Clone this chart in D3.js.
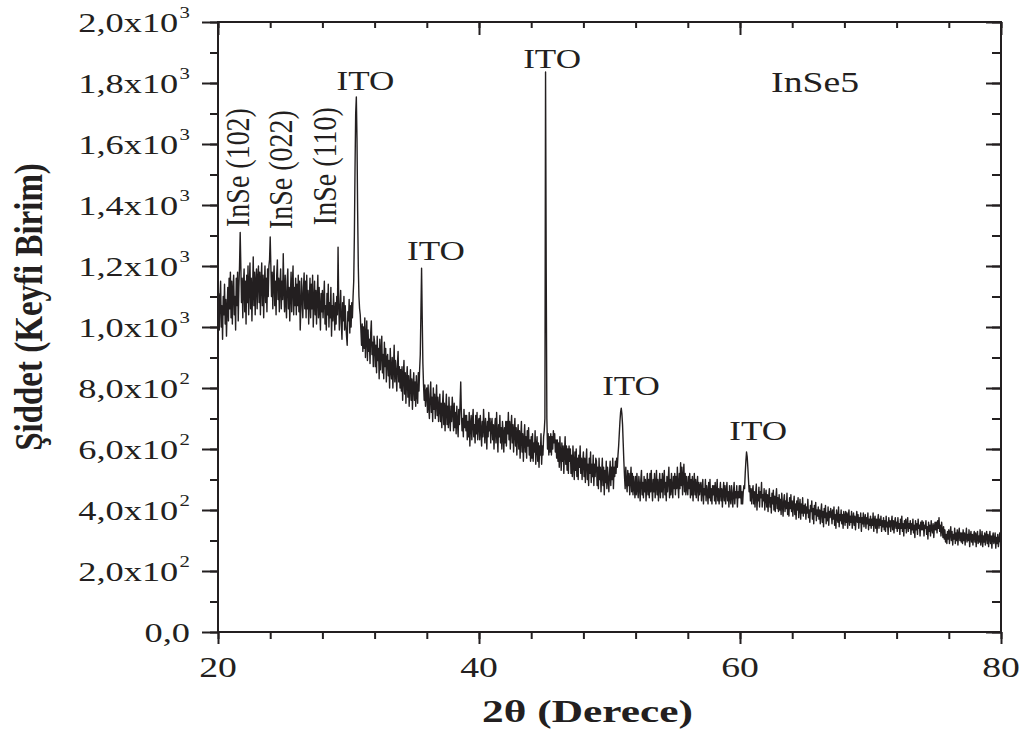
<!DOCTYPE html>
<html>
<head>
<meta charset="utf-8">
<script src="https://cdn.jsdelivr.net/npm/d3@7"></script>
<style>
  body { margin: 0; background: #fff; }
  svg { display: block; }
  text { font-family: "Liberation Serif", "Times New Roman", serif; fill: #231f20; }
</style>
</head>
<body>
<svg id="chart" width="1029" height="735"></svg>
<script>
// XRD pattern, InSe5 film: counts, 0.05 degree steps from 20 to 80
// (one line per degree)
const twoThetaStart = 20;
const twoThetaStep = 0.05;
const counts = [
  1020, 1110, 990, 1090, 1150, 1000, 1070, 960, 1100, 1040, 1140, 1010, 1090, 970, 1060, 1130, 1020, 1160, 1060, 1180,
  1030, 1150, 1010, 1120, 1170, 1040, 1100, 990, 1160, 1070, 1180, 1020, 1130, 1200, 1310, 1200, 1080, 1160, 1030, 1140,
  1190, 1050, 1150, 1010, 1170, 1080, 1200, 1040, 1140, 1210, 1060, 1160, 1020, 1120, 1230, 1070, 1180, 1040, 1150, 1190,
  1060, 1160, 1200, 1080, 1180, 1040, 1150, 1210, 1070, 1170, 1030, 1140, 1200, 1080, 1160, 1050, 1190, 1100, 1200, 1220,
  1295, 1200, 1100, 1180, 1060, 1160, 1200, 1070, 1150, 1040, 1170, 1220, 1090, 1160, 1050, 1140, 1190, 1060, 1150, 1090,
  1240, 1120, 1050, 1170, 1080, 1030, 1150, 1190, 1060, 1130, 1020, 1110, 1180, 1050, 1140, 1200, 1040, 1130, 1070, 1160,
  1040, 1140, 1070, 1170, 1050, 1150, 990, 1060, 1160, 1090, 1030, 1130, 1177, 1060, 1150, 1030, 1170, 1060, 1120, 1010,
  1090, 1160, 1030, 1140, 1060, 1170, 1000, 1080, 1150, 1040, 1120, 1010, 1100, 1170, 1030, 1130, 1060, 990, 1110, 1050,
  1120, 1030, 1090, 1150, 1010, 1070, 990, 1110, 1040, 1140, 1000, 1080, 1030, 1130, 970, 1070, 1020, 1110, 1050, 990,
  1080, 1010, 1100, 1040, 1262, 1080, 990, 1060, 1120, 1010, 960, 1080, 1020, 1100, 990, 1070, 1010, 970, 940, 1050,
  1020, 1090, 980, 1070, 1000, 1080, 1030, 1100, 1150, 1300, 1520, 1700, 1754, 1620, 1380, 1200, 1100, 1060, 1040, 990,
  940, 1010, 920, 1000, 930, 1030, 900, 970, 1020, 890, 990, 920, 960, 880, 980, 1020, 910, 950, 870, 970,
  950, 870, 940, 850, 970, 890, 930, 830, 960, 860, 920, 970, 850, 910, 830, 950, 870, 930, 820, 900,
  910, 840, 890, 800, 930, 860, 830, 900, 800, 870, 940, 820, 890, 850, 790, 880, 920, 820, 870, 800,
  860, 790, 870, 760, 840, 890, 780, 850, 750, 830, 870, 770, 840, 740, 810, 860, 760, 830, 730, 810,
  850, 760, 820, 740, 840, 780, 750, 850, 790, 860, 910, 1050, 1193, 1030, 880, 810, 760, 810, 740, 790,
  800, 720, 810, 740, 700, 780, 820, 720, 770, 690, 800, 730, 780, 700, 750, 810, 710, 770, 690, 740,
  780, 690, 750, 670, 740, 790, 680, 750, 660, 730, 780, 680, 740, 670, 770, 700, 660, 740, 690, 770,
  730, 660, 750, 670, 720, 650, 740, 690, 640, 730, 680, 750, 820, 720, 660, 700, 640, 730, 670, 710,
  660, 710, 630, 690, 640, 720, 610, 680, 710, 630, 690, 730, 640, 680, 620, 710, 650, 720, 630, 690,
  700, 630, 710, 660, 610, 690, 640, 730, 670, 620, 700, 660, 600, 690, 640, 720, 660, 700, 620, 680,
  700, 630, 680, 600, 670, 700, 620, 720, 650, 590, 680, 640, 710, 620, 670, 600, 690, 650, 590, 670,
  620, 690, 610, 690, 650, 720, 630, 690, 600, 670, 710, 620, 680, 590, 660, 700, 610, 670, 580, 650,
  680, 600, 660, 570, 640, 690, 590, 650, 560, 630, 680, 590, 640, 570, 660, 610, 670, 580, 630, 560,
  640, 570, 650, 560, 620, 590, 660, 550, 610, 640, 560, 620, 540, 610, 580, 650, 550, 610, 580, 640,
  660, 700, 1836, 1190, 700, 600, 650, 580, 640, 590, 650, 580, 640, 600, 660, 620, 650, 590, 630, 570,
  630, 560, 620, 540, 640, 580, 530, 620, 560, 610, 520, 590, 640, 550, 610, 530, 600, 520, 610, 560,
  600, 520, 580, 510, 610, 550, 500, 590, 530, 600, 510, 570, 500, 580, 540, 610, 520, 570, 500, 560,
  590, 510, 570, 490, 560, 600, 500, 550, 480, 570, 520, 590, 490, 550, 510, 580, 480, 550, 510, 570,
  560, 480, 540, 470, 570, 500, 540, 460, 520, 570, 480, 540, 450, 530, 490, 560, 470, 540, 500, 460,
  520, 560, 480, 540, 500, 570, 470, 540, 510, 560, 520, 570, 540, 580, 610, 650, 690, 720, 734, 715,
  680, 620, 560, 510, 470, 540, 490, 460, 530, 480, 520, 450, 500, 540, 460, 520, 450, 510, 480, 440,
  510, 450, 520, 470, 440, 510, 480, 430, 500, 530, 450, 490, 440, 510, 460, 500, 430, 480, 520, 450,
  500, 440, 520, 460, 530, 470, 430, 500, 460, 520, 440, 480, 530, 450, 500, 430, 480, 520, 440, 500,
  460, 520, 440, 500, 530, 450, 490, 430, 510, 460, 500, 540, 440, 500, 450, 520, 470, 440, 510, 470,
  520, 450, 510, 470, 540, 480, 440, 520, 470, 555, 480, 540, 450, 510, 550, 460, 520, 450, 510, 470,
  450, 510, 470, 520, 440, 500, 450, 510, 430, 480, 520, 450, 500, 440, 480, 510, 430, 490, 450, 480,
  490, 430, 470, 500, 420, 470, 450, 500, 430, 480, 460, 420, 490, 440, 500, 430, 470, 420, 480, 450,
  480, 430, 490, 420, 460, 500, 430, 470, 420, 460, 490, 430, 470, 410, 460, 490, 430, 480, 420, 460,
  490, 430, 460, 410, 480, 440, 420, 480, 450, 410, 460, 490, 420, 460, 440, 480, 410, 460, 440, 480,
  440, 480, 420, 460, 420, 460, 480, 470, 520, 560, 590, 575, 540, 500, 460, 480, 430, 470, 420, 460,
  480, 420, 460, 410, 455, 485, 400, 450, 430, 475, 410, 460, 440, 490, 410, 450, 430, 470, 400, 445,
  465, 410, 450, 395, 445, 470, 410, 440, 390, 455, 420, 465, 400, 445, 395, 440, 470, 405, 440, 395,
  450, 400, 435, 385, 455, 420, 380, 430, 450, 395, 430, 405, 455, 385, 425, 380, 440, 405, 450, 395,
  430, 380, 420, 445, 385, 420, 370, 430, 400, 440, 375, 410, 435, 370, 420, 390, 440, 380, 415, 390,
  420, 370, 410, 390, 435, 375, 400, 360, 415, 395, 430, 370, 405, 355, 415, 385, 425, 365, 400, 380,
  410, 370, 400, 355, 395, 420, 360, 395, 345, 405, 375, 415, 355, 390, 365, 410, 350, 395, 375, 405,
  390, 355, 400, 370, 410, 350, 385, 340, 400, 375, 360, 410, 345, 385, 365, 400, 355, 385, 340, 395,
  380, 350, 395, 360, 390, 340, 380, 400, 350, 380, 360, 395, 340, 370, 390, 350, 380, 335, 370, 395,
  360, 385, 340, 375, 360, 390, 330, 375, 355, 390, 345, 370, 385, 340, 375, 355, 390, 335, 370, 350,
  380, 340, 370, 350, 390, 330, 365, 380, 340, 370, 325, 365, 385, 340, 370, 350, 380, 330, 365, 345,
  375, 335, 365, 330, 380, 345, 360, 320, 375, 345, 365, 330, 360, 380, 335, 365, 325, 360, 375, 340,
  360, 330, 375, 340, 355, 320, 370, 340, 380, 330, 355, 315, 365, 340, 370, 325, 355, 375, 330, 355,
  340, 365, 320, 355, 335, 370, 325, 350, 310, 365, 335, 355, 320, 370, 340, 350, 315, 360, 335, 365,
  335, 360, 315, 350, 340, 365, 320, 345, 305, 360, 330, 350, 315, 365, 340, 325, 355, 310, 345, 360,
  335, 360, 325, 365, 340, 375, 330, 350, 315, 360, 335, 310, 345, 305, 335, 295, 320, 290, 330, 305,
  335, 290, 325, 345, 300, 330, 285, 320, 305, 340, 290, 325, 300, 335, 285, 320, 340, 300, 325, 295,
  325, 290, 335, 300, 325, 285, 315, 340, 295, 320, 300, 335, 280, 315, 330, 295, 320, 285, 315, 330,
  295, 325, 280, 315, 330, 290, 315, 295, 335, 285, 305, 330, 280, 315, 295, 325, 285, 315, 330, 290,
  320, 280, 310, 330, 290, 315, 275, 310, 325, 290, 300, 325, 275, 310, 290, 320, 280, 300, 325, 295,
  305
];

// axis ticks
const xMajorTicks = [20, 40, 60, 80];
const xMinorTicks = d3.range(20, 81, 4);
const yMajorTicks = [0, 200, 400, 600, 800, 1000, 1200, 1400, 1600, 1800, 2000];
const yMinorTicks = d3.range(0, 2001, 100);
const yTickMantissa = ["0,0", "2,0x10", "4,0x10", "6,0x10", "8,0x10", "1,0x10", "1,2x10", "1,4x10", "1,6x10", "1,8x10", "2,0x10"];
const yTickExponent = ["", "2", "2", "2", "2", "3", "3", "3", "3", "3", "3"];

// peak annotations (angle, counts at the label baseline)
const itoLabelAngle = [31.3, 45.6, 36.7, 51.65, 61.4];
const itoLabelCount = [1777, 1849, 1220, 777, 630];
const inseLabels = ["InSe (102)", "InSe (022)", "InSe (110)"];
const inseLabelAngle = [22.38, 25.67, 29.04];
const inseLabelCount = [1328, 1321, 1334];

const ink = "#231f20";
const stretch = 1.3;

const svg = d3.select("#chart");
const margin = { left: 218, right: 1001, top: 22, bottom: 632 };

const x = d3.scaleLinear().domain([20, 80]).range([margin.left, margin.right]);
const y = d3.scaleLinear().domain([0, 2000]).range([margin.bottom, margin.top]);

// ticks: outward on left/bottom, inward on top/right
const tickAxis = (axis, transform, values, size) => {
  svg.append("g")
    .attr("transform", transform)
    .call(axis.tickValues(values).tickSize(size).tickFormat(""))
    .call(g => g.select(".domain").remove())
    .selectAll("line").attr("stroke", ink).attr("stroke-width", 2);
};

tickAxis(d3.axisBottom(x), `translate(0,${margin.bottom})`, xMinorTicks, 7);
tickAxis(d3.axisBottom(x), `translate(0,${margin.bottom})`, xMajorTicks, 12);
tickAxis(d3.axisBottom(x), `translate(0,${margin.top})`, xMinorTicks, 6);
tickAxis(d3.axisBottom(x), `translate(0,${margin.top})`, xMajorTicks, 13);
tickAxis(d3.axisLeft(y), `translate(${margin.left},0)`, yMinorTicks, 8);
tickAxis(d3.axisLeft(y), `translate(${margin.left},0)`, yMajorTicks, 16);
tickAxis(d3.axisLeft(y), `translate(${margin.right},0)`, yMinorTicks, 9);
tickAxis(d3.axisLeft(y), `translate(${margin.right},0)`, yMajorTicks, 15);

// frame
svg.append("rect")
  .attr("x", margin.left).attr("y", margin.top)
  .attr("width", margin.right - margin.left)
  .attr("height", margin.bottom - margin.top)
  .attr("fill", "none").attr("stroke", ink).attr("stroke-width", 2);

// the pattern
const line = d3.line()
  .x((d, i) => x(twoThetaStart + i * twoThetaStep))
  .y(d => y(d));

svg.append("path")
  .datum(counts)
  .attr("fill", "none")
  .attr("stroke", ink)
  .attr("stroke-width", 1.4)
  .attr("stroke-linejoin", "round")
  .attr("d", line);

// text is horizontally stretched in the original figure
const label = (px, py, sx, rot) => svg.append("g")
  .attr("transform", `translate(${px},${py}) scale(${sx},1)` + (rot ? ` rotate(${rot})` : ""))
  .append("text");

// x tick labels
xMajorTicks.forEach(v => {
  label(x(v), 677, stretch).attr("text-anchor", "middle").attr("font-size", 29).text(v);
});

// y tick labels with superscripts
yMajorTicks.forEach((v, i) => {
  const t = label(190, y(v) + 10, stretch).attr("text-anchor", "end").attr("font-size", 28);
  t.append("tspan").text(yTickMantissa[i]);
  if (yTickExponent[i]) {
    t.append("tspan").attr("dy", -14).attr("dx", 1).attr("font-size", 16).text(yTickExponent[i]);
  }
});

// axis titles
label(482, 722, 1.4).attr("font-size", 31).attr("font-weight", "bold").text("2θ (Derece)");
label(42, 307, 1.24, -90).attr("text-anchor", "middle").attr("font-size", 33)
  .attr("font-weight", "bold").text("Şiddet (Keyfi Birim)");

// peak labels
itoLabelAngle.forEach((a, i) => {
  label(x(a), y(itoLabelCount[i]), stretch).attr("text-anchor", "middle").attr("font-size", 27).text("ITO");
});
inseLabels.forEach((s, i) => {
  label(x(inseLabelAngle[i]), y(inseLabelCount[i]), 1.2, -90).attr("font-size", 28).text(s);
});
label(x(65.75), y(1770), stretch).attr("text-anchor", "middle").attr("font-size", 29).text("InSe5");
</script>
</body>
</html>
